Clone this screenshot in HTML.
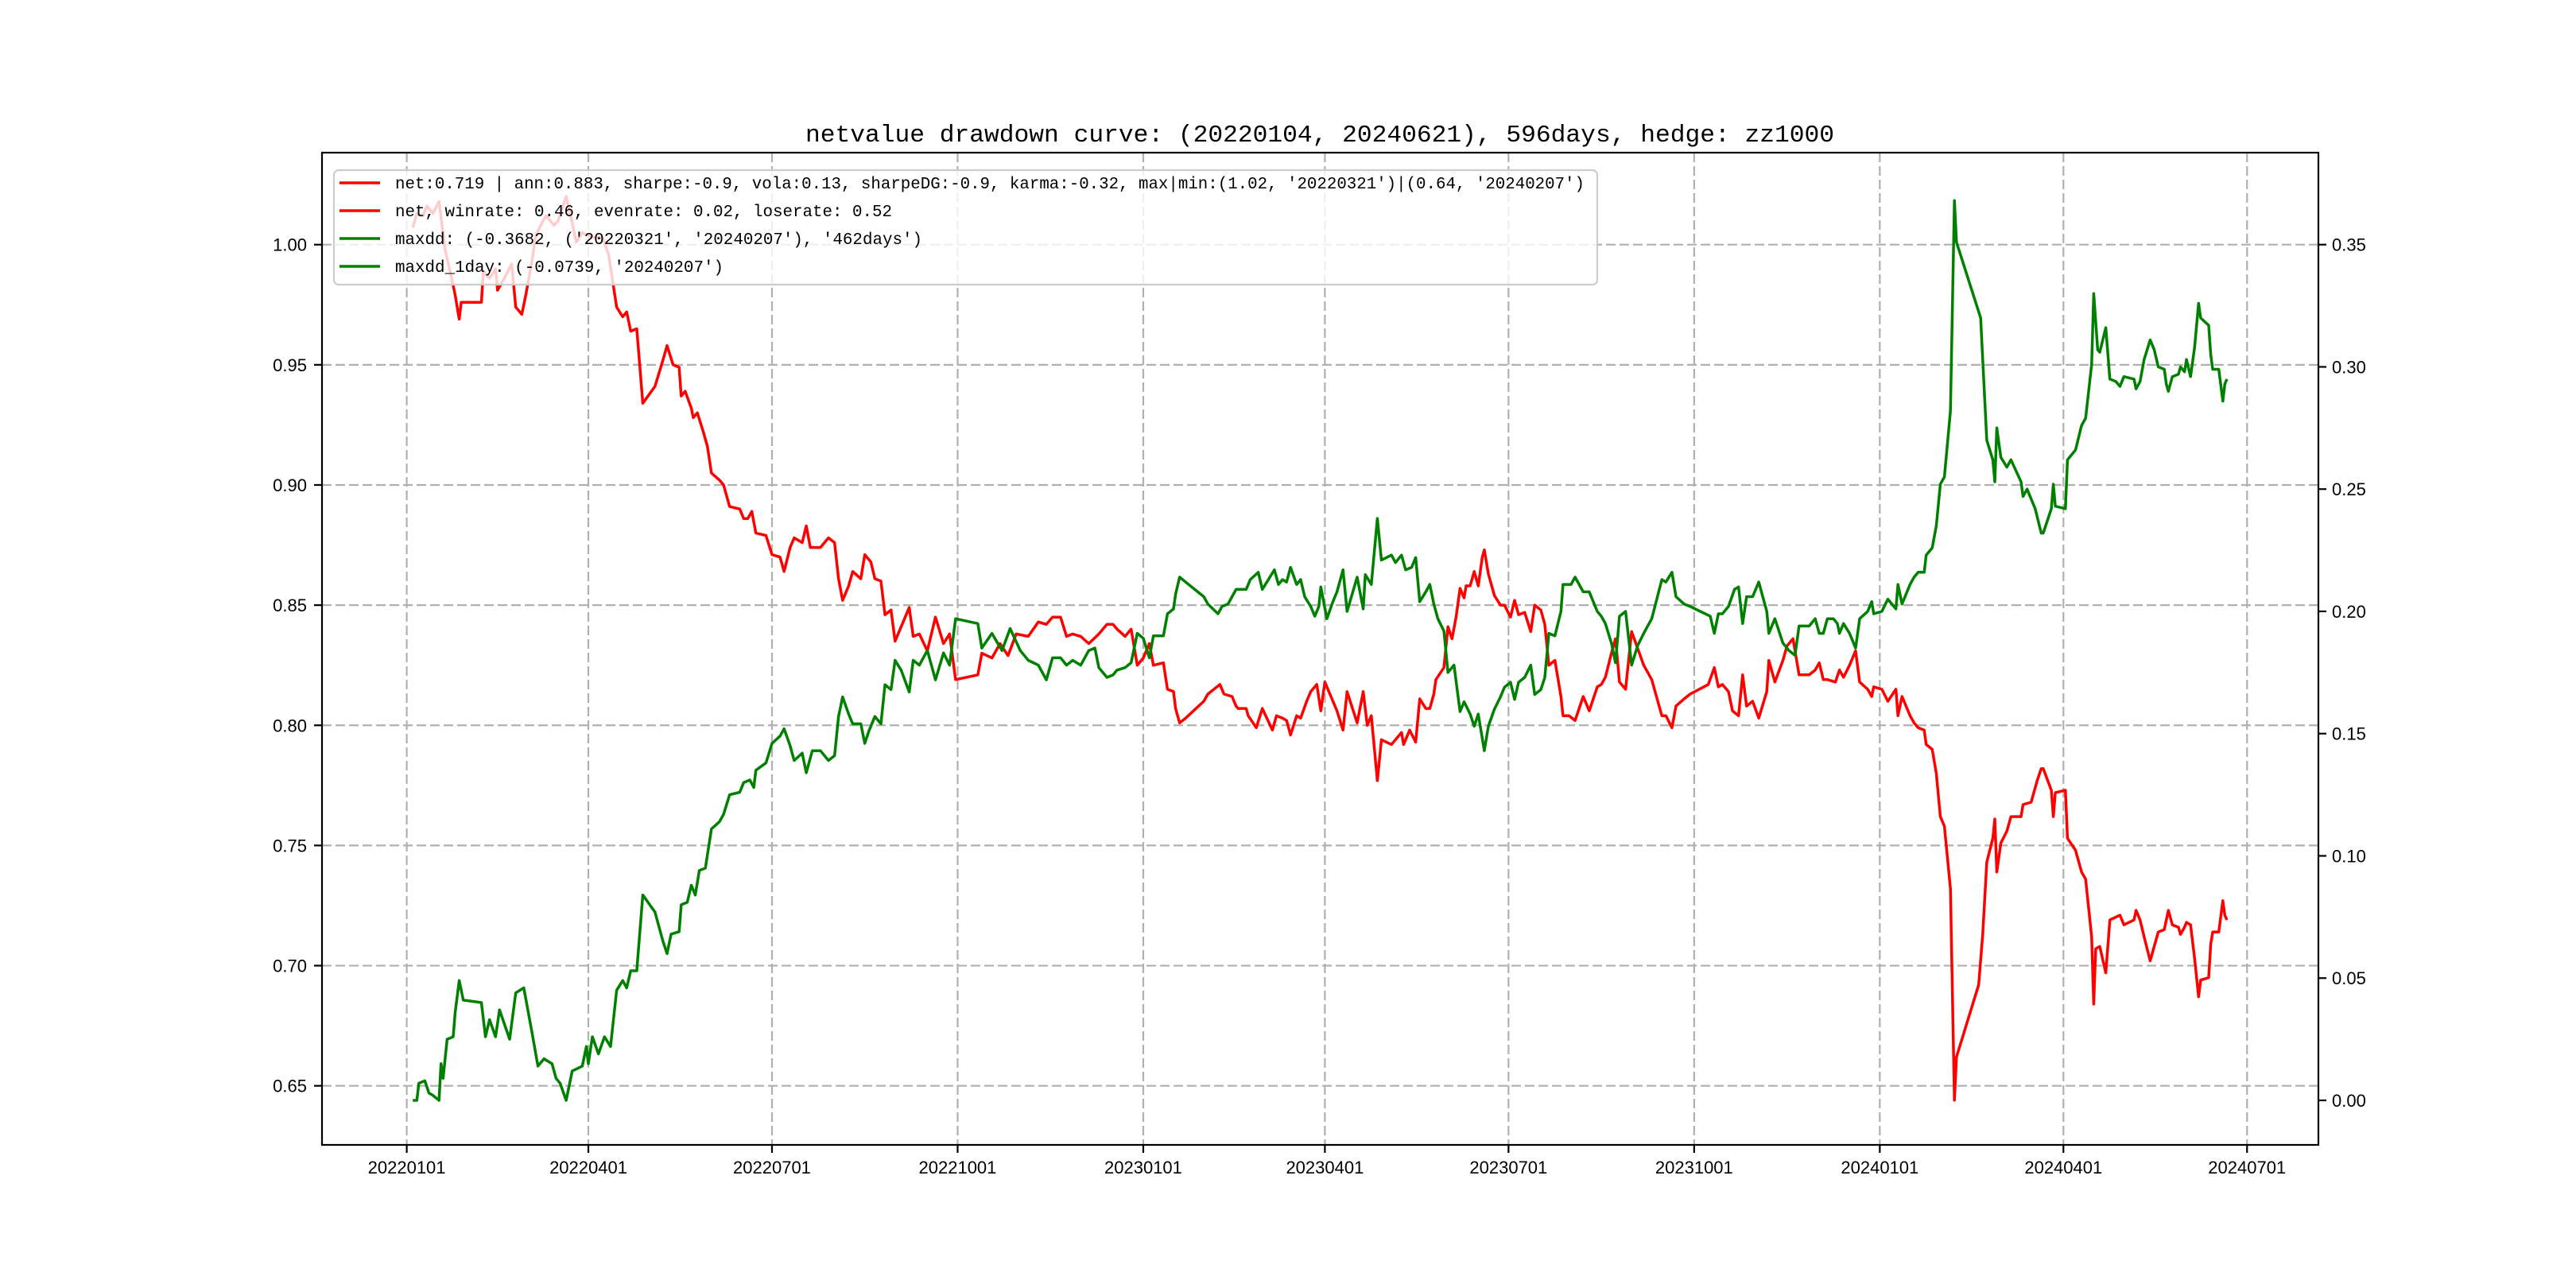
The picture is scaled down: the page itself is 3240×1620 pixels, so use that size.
<!DOCTYPE html>
<html><head><meta charset="utf-8"><title>netvalue drawdown curve</title>
<style>html,body{margin:0;padding:0;background:#fff;}svg{display:block;}</style></head>
<body>
<svg id="chart" width="3240" height="1620" viewBox="0 0 3240 1620" xmlns="http://www.w3.org/2000/svg">
<rect x="0" y="0" width="3240" height="1620" fill="#ffffff"/>
<g id="grid"></g>
<g id="series"></g>
<g id="axes"></g>
<text x="1660" y="178" text-anchor="middle" font-family="Liberation Mono, monospace" font-size="30.8" textLength="1294" lengthAdjust="spacingAndGlyphs">netvalue drawdown curve: (20220104, 20240621), 596days, hedge: zz1000</text>
<g>
<rect x="420" y="214" width="1589" height="144" rx="6" fill="#ffffff" fill-opacity="0.8" stroke="#cccccc" stroke-width="2.2"/>
<line x1="427" y1="230" x2="478" y2="230" stroke="#ff0000" stroke-width="3.5"/>
<text x="497" y="237" font-family="Liberation Mono, monospace" font-size="20.8" textLength="1496" lengthAdjust="spacingAndGlyphs">net:0.719 | ann:0.883, sharpe:-0.9, vola:0.13, sharpeDG:-0.9, karma:-0.32, max|min:(1.02, '20220321')|(0.64, '20240207')</text>
<line x1="427" y1="265" x2="478" y2="265" stroke="#ff0000" stroke-width="3.5"/>
<text x="497" y="272" font-family="Liberation Mono, monospace" font-size="20.8" textLength="625" lengthAdjust="spacingAndGlyphs">net, winrate: 0.46, evenrate: 0.02, loserate: 0.52</text>
<line x1="427" y1="300" x2="478" y2="300" stroke="#008000" stroke-width="3.5"/>
<text x="497" y="307" font-family="Liberation Mono, monospace" font-size="20.8" textLength="663" lengthAdjust="spacingAndGlyphs">maxdd: (-0.3682, ('20220321', '20240207'), '462days')</text>
<line x1="427" y1="335" x2="478" y2="335" stroke="#008000" stroke-width="3.5"/>
<text x="497" y="342" font-family="Liberation Mono, monospace" font-size="20.8" textLength="413" lengthAdjust="spacingAndGlyphs">maxdd_1day: (-0.0739, '20240207')</text>
</g>
</svg>
<script>
// x: days since 2022-01-01
const xTickDays = [0, 90, 181, 273, 365, 455, 546, 638, 730, 821, 912];
const xTickLabels = ['20220101','20220401','20220701','20221001','20230101','20230401','20230701','20231001','20240101','20240401','20240701'];
const leftTicks = [0.65, 0.70, 0.75, 0.80, 0.85, 0.90, 0.95, 1.00];
const leftTickLabels = ['0.65','0.70','0.75','0.80','0.85','0.90','0.95','1.00'];
const rightTicks = [0.00, 0.05, 0.10, 0.15, 0.20, 0.25, 0.30, 0.35];
const rightTickLabels = ['0.00','0.05','0.10','0.15','0.20','0.25','0.30','0.35'];

const netDays = [3,5,8,10,13,16,19,23,24,26,27,37,38,41,44,45,47,49,52,54,57,59,62,64,67,69,73,75,79,82,84,87,89,93,97,100,102,104,107,109,111,114,117,123,127,129,132,135,136,138,141,142,144,147,149,151,155,157,160,165,167,169,171,173,178,181,185,187,190,192,196,198,200,205,209,212,214,216,219,221,225,227,230,232,235,237,240,242,245,249,251,254,258,262,266,269,272,283,285,290,294,298,302,308,313,317,320,324,327,330,334,338,343,347,350,
352,356,359,362,365,368,370,375,377,380,381,383,386,395,397,403,405,409,411,412,416,417,421,424,429,431,434,436,438,441,443,446,448,451,453,455,458,461,464,466,471,474,476,478,481,483,488,490,493,494,497,500,502,505,507,509,510,514,516,518,520,522,524,525,527,529,531,533,534,536,539,542,544,547,549,551,554,557,559,562,564,566,569,572,573,576,579,583,586,590,592,594,597,599,601,604,607,610,613,617,622,624,627,629,633,636,645,648,650,652,655,657,660,662,664,667,670,674,675,678,682,684,687,690,695,698,700,702,
704,708,710,712,715,718,720,724,726,727,731,734,738,739,741,745,747,749,752,753,756,758,760,762,765,767,768,779,781,783,786,787,788,790,793,795,800,801,805,808,810,811,815,816,817,822,823,827,830,832,835,836,837,839,842,844,849,851,856,857,859,861,864,866,868,871,873,875,878,879,881,882,884,886,888,889,893,894,895,898,900,901,902];
const netValues = [1.007,1.013,1.012,1.016,1.013,1.018,0.998,0.983,0.979,0.969,0.976,0.976,0.989,0.986,0.990,0.981,0.984,0.987,0.992,0.974,0.971,0.979,0.993,1.004,1.009,1.012,1.008,1.010,1.020,1.009,1.001,1.005,1.004,1.003,1.003,0.996,0.985,0.974,0.970,0.972,0.964,0.965,0.934,0.941,0.952,0.958,0.950,0.949,0.937,0.939,0.932,0.928,0.930,0.922,0.916,0.905,0.902,0.900,0.891,0.890,0.886,0.886,0.889,0.880,0.879,0.871,0.870,0.864,0.874,0.878,0.876,0.883,0.874,0.874,0.878,0.876,0.861,0.852,0.858,0.864,0.861,0.871,0.868,0.861,0.860,0.846,0.848,0.835,0.841,0.849,0.837,0.838,0.831,0.845,0.834,0.838,0.819,0.821,0.830,0.828,0.834,0.829,0.838,0.837,0.843,0.842,0.845,0.845,0.837,0.838,0.837,0.834,0.838,0.842,0.842,
0.840,0.837,0.840,0.825,0.828,0.834,0.825,0.826,0.815,0.814,0.807,0.801,0.803,0.810,0.813,0.817,0.813,0.812,0.808,0.807,0.807,0.804,0.799,0.807,0.798,0.804,0.803,0.802,0.796,0.804,0.803,0.810,0.814,0.817,0.806,0.818,0.812,0.806,0.798,0.814,0.801,0.814,0.800,0.804,0.777,0.794,0.792,0.794,0.797,0.792,0.798,0.793,0.811,0.807,0.807,0.813,0.819,0.824,0.841,0.836,0.845,0.857,0.853,0.858,0.858,0.864,0.858,0.870,0.873,0.863,0.854,0.850,0.850,0.845,0.852,0.846,0.847,0.839,0.850,0.848,0.842,0.825,0.827,0.812,0.804,0.804,0.802,0.812,0.806,0.816,0.817,0.820,0.830,0.836,0.818,0.815,0.839,0.832,0.825,0.819,0.804,0.804,0.799,0.808,0.811,0.813,0.817,0.824,0.816,0.817,0.814,0.806,0.804,0.821,0.808,0.810,0.803,0.814,0.827,0.818,0.827,0.833,0.836,0.821,0.821,0.823,0.826,0.819,
0.819,0.818,0.823,0.820,0.825,0.831,0.818,0.815,0.812,0.816,0.815,0.810,0.815,0.804,0.812,0.804,0.801,0.799,0.798,0.792,0.790,0.780,0.762,0.758,0.732,0.644,0.662,0.692,0.713,0.743,0.753,0.761,0.739,0.751,0.756,0.762,0.762,0.767,0.768,0.777,0.782,0.782,0.773,0.762,0.772,0.773,0.753,0.748,0.739,0.736,0.712,0.684,0.707,0.708,0.697,0.719,0.721,0.717,0.719,0.723,0.719,0.712,0.702,0.708,0.714,0.715,0.723,0.717,0.716,0.713,0.716,0.718,0.717,0.703,0.687,0.694,0.695,0.709,0.714,0.714,0.727,0.721,0.719];

const ddDays = [3,5,6,9,11,13,16,17,18,20,23,24,26,28,37,39,41,44,46,51,54,58,62,65,68,72,74,76,79,82,87,89,90,92,95,98,101,104,107,109,111,114,117,123,127,129,131,135,136,139,141,143,145,148,151,155,157,160,165,167,170,172,173,178,181,185,187,190,192,196,198,201,205,209,212,214,216,219,221,225,227,229,232,235,237,240,242,245,249,251,254,258,262,266,269,272,283,285,290,295,299,304,308,313,317,320,324,327,330,334,338,341,343,347,350,
352,356,359,362,365,368,370,375,377,380,381,383,386,395,397,402,404,407,409,411,416,418,422,424,430,432,434,436,438,441,443,445,448,450,452,453,456,459,461,464,466,471,474,475,478,481,483,488,490,493,495,498,500,502,505,507,509,511,514,516,519,522,524,527,529,531,534,536,539,542,544,547,549,551,554,557,559,562,564,566,569,572,573,577,579,583,586,590,592,594,597,599,601,604,607,610,613,617,622,624,627,629,633,636,646,648,650,652,655,658,660,662,664,667,670,674,675,678,682,685,688,690,695,698,700,702,
704,707,709,710,712,715,718,720,724,726,727,731,734,738,739,741,745,747,749,752,753,756,758,760,762,765,767,768,780,781,783,786,787,788,790,793,795,800,801,803,807,810,811,815,816,817,822,823,827,830,832,835,836,838,839,842,844,847,849,851,856,857,859,861,864,866,868,871,872,873,875,878,879,881,882,884,886,888,889,893,894,895,898,900,901,902];
const ddValues = [0.000,0.000,0.007,0.008,0.003,0.002,0.000,0.015,0.009,0.025,0.026,0.036,0.049,0.041,0.040,0.026,0.033,0.026,0.037,0.025,0.044,0.046,0.028,0.014,0.017,0.015,0.009,0.007,0.000,0.012,0.014,0.022,0.015,0.026,0.019,0.026,0.022,0.045,0.049,0.046,0.053,0.053,0.084,0.077,0.065,0.060,0.068,0.069,0.080,0.081,0.088,0.084,0.094,0.095,0.111,0.114,0.117,0.125,0.126,0.130,0.131,0.128,0.135,0.138,0.146,0.149,0.152,0.145,0.139,0.142,0.134,0.143,0.143,0.139,0.141,0.157,0.165,0.158,0.154,0.154,0.146,0.151,0.157,0.154,0.170,0.168,0.180,0.176,0.167,0.180,0.178,0.184,0.172,0.183,0.178,0.197,0.195,0.185,0.191,0.184,0.193,0.184,0.180,0.178,0.172,0.181,0.181,0.178,0.180,0.178,0.184,0.185,0.177,0.173,0.174,
0.176,0.177,0.179,0.191,0.189,0.181,0.190,0.190,0.199,0.201,0.207,0.214,0.212,0.206,0.203,0.199,0.202,0.203,0.206,0.209,0.209,0.213,0.216,0.209,0.217,0.211,0.213,0.212,0.218,0.211,0.213,0.206,0.202,0.198,0.202,0.210,0.197,0.204,0.208,0.217,0.200,0.214,0.201,0.215,0.211,0.238,0.221,0.223,0.220,0.223,0.217,0.218,0.222,0.204,0.208,0.211,0.203,0.197,0.192,0.175,0.178,0.159,0.163,0.158,0.153,0.158,0.143,0.153,0.160,0.165,0.169,0.171,0.164,0.171,0.173,0.178,0.166,0.168,0.173,0.191,0.190,0.200,0.211,0.211,0.214,0.208,0.208,0.200,0.198,0.195,0.187,0.179,0.198,0.200,0.178,0.186,0.191,0.197,0.213,0.212,0.216,0.206,0.203,0.202,0.198,0.191,0.199,0.199,0.202,0.209,0.210,0.195,0.206,0.206,0.212,0.200,0.191,0.197,0.187,0.184,0.182,0.194,0.194,0.197,0.191,0.191,
0.197,0.197,0.195,0.191,0.195,0.191,0.185,0.197,0.200,0.204,0.199,0.200,0.205,0.201,0.211,0.203,0.211,0.214,0.216,0.216,0.223,0.226,0.235,0.252,0.255,0.282,0.368,0.351,0.320,0.303,0.270,0.262,0.253,0.275,0.263,0.259,0.262,0.253,0.247,0.250,0.242,0.232,0.232,0.242,0.252,0.243,0.242,0.262,0.266,0.276,0.279,0.301,0.330,0.307,0.306,0.316,0.295,0.294,0.292,0.296,0.295,0.291,0.294,0.303,0.311,0.307,0.300,0.299,0.293,0.290,0.296,0.297,0.300,0.298,0.303,0.296,0.308,0.326,0.320,0.317,0.305,0.299,0.299,0.286,0.293,0.295];

const NS = 'http://www.w3.org/2000/svg';
const AX = {left: 405, right: 2916, top: 192, bottom: 1440};
function xScale(d) { return 511.6 + d * 2.538; }
function yLeft(v) { return 307.7 + (1.00 - v) / 0.05 * 151.14; }
function yRight(v) { return 1384 - v / 0.05 * 153.76; }
function mk(tag, attrs, parent) {
  const el = document.createElementNS(NS, tag);
  for (const k in attrs) el.setAttribute(k, attrs[k]);
  parent.appendChild(el);
  return el;
}
const grid = document.getElementById('grid');
const axes = document.getElementById('axes');
const series = document.getElementById('series');

xTickDays.forEach((d, i) => {
  const x = xScale(d);
  const gl = mk('line', {x1: x, y1: AX.top, x2: x, y2: AX.bottom, stroke: '#b0b0b0', 'stroke-width': 2.2, 'stroke-dasharray': '12,5'}, grid);
  
  
  const tk = mk('line', {x1: x, y1: AX.bottom, x2: x, y2: AX.bottom + 10, stroke: '#000', 'stroke-width': 2.2}, axes);
  
  
  const t = mk('text', {x: x, y: 1476, 'text-anchor': 'middle', 'font-family': 'Liberation Sans, sans-serif', 'font-size': 22}, axes);
  
  
  t.textContent = xTickLabels[i];
});
leftTicks.forEach((v, i) => {
  const y = yLeft(v);
  const gl = mk('line', {x1: AX.left, y1: y, x2: AX.right, y2: y, stroke: '#b0b0b0', 'stroke-width': 2.2, 'stroke-dasharray': '12,5'}, grid);
  
  
  const tk = mk('line', {x1: AX.left - 10, y1: y, x2: AX.left, y2: y, stroke: '#000', 'stroke-width': 2.2}, axes);
  
  
  const t = mk('text', {x: 386, y: y + 8, 'text-anchor': 'end', 'font-family': 'Liberation Sans, sans-serif', 'font-size': 22}, axes);
  
  
  t.textContent = leftTickLabels[i];
});
rightTicks.forEach((v, i) => {
  const y = yRight(v);
  const tk = mk('line', {x1: AX.right, y1: y, x2: AX.right + 10, y2: y, stroke: '#000', 'stroke-width': 2.2}, axes);
  
  
  const t = mk('text', {x: 2933, y: y + 8, 'text-anchor': 'start', 'font-family': 'Liberation Sans, sans-serif', 'font-size': 22}, axes);
  
  
  t.textContent = rightTickLabels[i];
});
const frame = mk('rect', {x: AX.left, y: AX.top, width: AX.right - AX.left, height: AX.bottom - AX.top, fill: 'none', stroke: '#000', 'stroke-width': 2.2}, axes);



function pathFrom(days, vals, yf) {
  return days.map((d, i) => (i ? 'L' : 'M') + xScale(d).toFixed(1) + ',' + yf(vals[i]).toFixed(1)).join(' ');
}
const netLine = mk('path', {d: pathFrom(netDays, netValues, yLeft), fill: 'none', stroke: '#ff0000', 'stroke-width': 3.5, 'stroke-linejoin': 'round'}, series);


const ddLine = mk('path', {d: pathFrom(ddDays, ddValues, yRight), fill: 'none', stroke: '#008000', 'stroke-width': 3.5, 'stroke-linejoin': 'round'}, series);


</script>
</body></html>
